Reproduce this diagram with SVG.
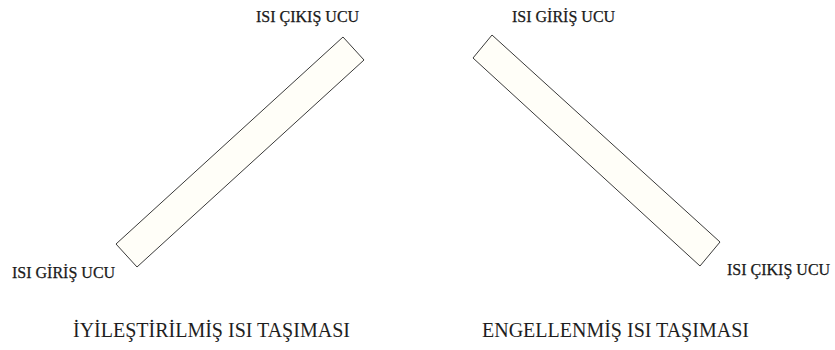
<svg xmlns="http://www.w3.org/2000/svg" width="835" height="350" viewBox="0 0 835 350">
  <style>
    .bar { fill: #fffef8; stroke: #3a3a3a; stroke-width: 1; stroke-linejoin: miter; }
    .end { font-family: "Liberation Serif", "Times New Roman", serif; font-size: 16px; fill: #1a1a1a; stroke: #1a1a1a; stroke-width: 0.25; }
    .title { font-family: "Liberation Serif", "Times New Roman", serif; font-size: 20px; fill: #1e1e1e; }
  </style>
  <rect width="835" height="350" fill="#ffffff"/>

  <!-- improved heat transport: rising bar -->
  <g id="improved">
    <polygon class="bar" points="343,37 364,60 137,267 116,244"/>
    <text class="end" x="256" y="22">ISI ÇIKIŞ UCU</text>
    <text class="end" x="12" y="278">ISI GİRİŞ UCU</text>
    <text class="title" x="73" y="337">İYİLEŞTİRİLMİŞ ISI TAŞIMASI</text>
  </g>

  <!-- hindered heat transport: falling bar -->
  <g id="hindered">
    <polygon class="bar" points="492,35 473,58 700,266 720,242"/>
    <text class="end" x="512" y="22">ISI GİRİŞ UCU</text>
    <text class="end" x="727" y="275">ISI ÇIKIŞ UCU</text>
    <text class="title" x="482" y="337">ENGELLENMİŞ ISI TAŞIMASI</text>
  </g>

  <g id="connectors"></g>
</svg>
